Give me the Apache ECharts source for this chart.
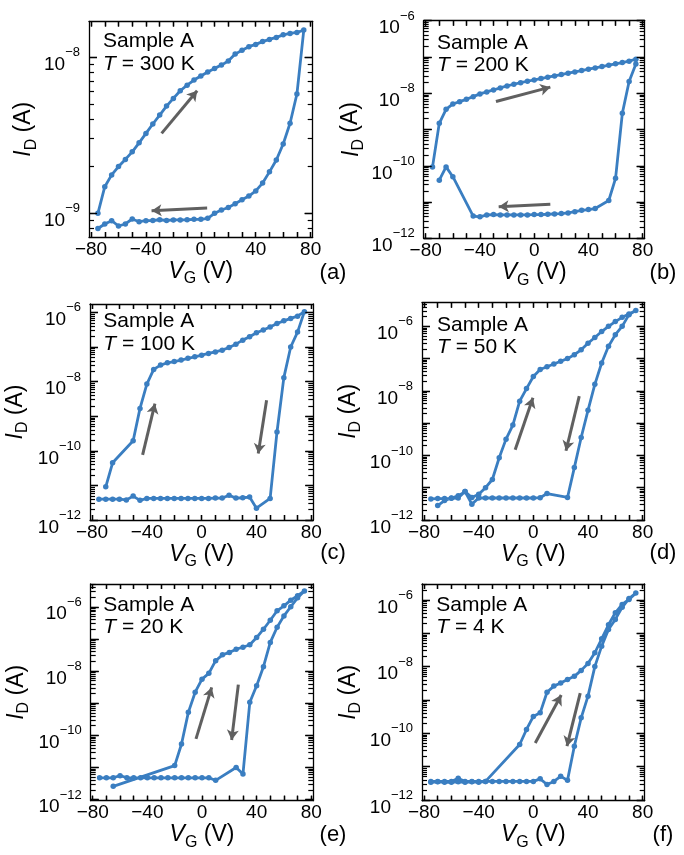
<!DOCTYPE html>
<html><head><meta charset="utf-8">
<script src="https://cdn.jsdelivr.net/npm/echarts@6/dist/echarts.min.js"></script>
<style>html,body{margin:0;padding:0;background:#fff}#c{width:684px;height:855px}</style>
</head><body><div id="c"></div>
<script>
// ---------- data (V_G in V, I_D in A) ----------
// (a) T = 300 K
const vgA_up = [-75,-70,-65,-60,-55,-50,-45,-40,-35,-30,-25,-20,-15,-10,-5,0,5,10,15,20,25,30,35,40,45,50,55,60,65,70,75];
const idA_up = [1.0e-9,1.48e-9,1.76e-9,1.99e-9,2.21e-9,2.47e-9,2.82e-9,3.24e-9,3.72e-9,4.24e-9,4.84e-9,5.42e-9,6.07e-9,6.59e-9,7.1e-9,7.53e-9,8.0e-9,8.43e-9,8.85e-9,9.4e-9,1.04e-8,1.10e-8,1.16e-8,1.2e-8,1.25e-8,1.29e-8,1.33e-8,1.38e-8,1.41e-8,1.43e-8,1.48e-8];
const vgA_dn = [70,65,60,55,50,45,40,35,30,25,20,15,10,5,0,-5,-10,-15,-20,-25,-30,-35,-40,-45,-50,-55,-60,-65,-70,-75];
const idA_dn = [5.78e-9,3.76e-9,2.77e-9,2.19e-9,1.84e-9,1.56e-9,1.39e-9,1.29e-9,1.22e-9,1.15e-9,1.09e-9,1.05e-9,1.0e-9,9.3e-10,9.16e-10,9.16e-10,9.1e-10,9.07e-10,9.07e-10,9.0e-10,9.1e-10,9.0e-10,8.97e-10,8.84e-10,9.2e-10,8.55e-10,8.3e-10,8.97e-10,8.55e-10,8.0e-10];
// (b) T = 200 K
const vgB_up = [-75,-70,-65,-60,-55,-50,-45,-40,-35,-30,-25,-20,-15,-10,-5,0,5,10,15,20,25,30,35,40,45,50,55,60,65,70,75];
const idB_up = [9.3e-11,1.48e-9,3.6e-9,5.06e-9,5.86e-9,6.8e-9,8.05e-9,9.6e-9,1.09e-8,1.23e-8,1.4e-8,1.59e-8,1.77e-8,1.96e-8,2.14e-8,2.33e-8,2.53e-8,2.77e-8,3.0e-8,3.27e-8,3.57e-8,3.88e-8,4.21e-8,4.6e-8,5.0e-8,5.43e-8,5.93e-8,6.45e-8,7.0e-8,7.65e-8,8.7e-8];
const vgB_dn = [75,70,65,60,55,45,40,35,30,25,20,15,10,5,0,-5,-10,-15,-20,-25,-30,-35,-40,-45,-60,-65,-70];
const idB_dn = [6.4e-8,2.1e-8,2.8e-9,4.5e-11,1.1e-11,6.6e-12,6.2e-12,5.9e-12,5.4e-12,5.0e-12,4.8e-12,4.7e-12,4.6e-12,4.5e-12,4.5e-12,4.4e-12,4.4e-12,4.4e-12,4.4e-12,4.4e-12,4.5e-12,4.4e-12,3.9e-12,4.1e-12,5.0e-11,9.3e-11,4.0e-11];
// (c) T = 100 K
const vgC_up = [-70,-65,-50,-45,-40,-35,-30,-25,-20,-15,-10,-5,0,5,10,15,20,25,30,35,40,45,50,55,60,65,70,75];
const idC_up = [9.1e-12,4.5e-11,1.95e-10,1.68e-9,8.5e-9,2.25e-8,3.0e-8,3.5e-8,3.8e-8,4.2e-8,4.7e-8,5.2e-8,5.8e-8,6.5e-8,7.2e-8,8.1e-8,9.7e-8,1.21e-7,1.58e-7,1.97e-7,2.57e-7,3.1e-7,3.8e-7,4.8e-7,5.7e-7,6.7e-7,7.8e-7,1.05e-6];
const vgC_dn = [70,65,60,55,50,40,35,30,25,20,15,10,5,0,-5,-10,-15,-20,-25,-30,-35,-40,-45,-50,-55,-60,-65,-70,-75];
const idC_dn = [2.7e-7,1.0e-7,1.3e-8,3.5e-10,4.2e-12,2.2e-12,4.6e-12,4.4e-12,4.3e-12,5.2e-12,4.3e-12,4.3e-12,4.2e-12,4.2e-12,4.2e-12,4.2e-12,4.2e-12,4.2e-12,4.2e-12,4.2e-12,4.2e-12,4.2e-12,3.7e-12,4.9e-12,3.8e-12,4.0e-12,4.0e-12,4.0e-12,4.0e-12];
// (d) T = 50 K
const vgD_up = [-70,-65,-60,-55,-50,-45,-40,-35,-30,-25,-20,-15,-10,-5,0,5,10,15,20,25,30,35,40,45,50,55,60,65,70,75];
const idD_up = [2.8e-12,4.0e-12,4.8e-12,5.6e-12,7.6e-12,5.0e-12,6.3e-12,1.0e-11,1.8e-11,8.5e-11,3.2e-10,8.7e-10,4.8e-9,1.18e-8,2.8e-8,4.6e-8,5.6e-8,6.8e-8,8.3e-8,1.0e-7,1.32e-7,1.88e-7,3.0e-7,4.5e-7,6.9e-7,1.0e-6,1.4e-6,1.9e-6,2.4e-6,3.1e-6];
const vgD_dn = [70,65,60,55,50,45,40,35,30,25,10,5,0,-5,-10,-15,-20,-25,-30,-35,-40,-45,-50,-55,-60,-65,-70,-75];
const idD_dn = [2.3e-6,1.0e-6,5.5e-7,2.4e-7,7.3e-8,1.6e-8,2.5e-9,3.6e-10,4.2e-11,5.0e-12,6.6e-12,4.9e-12,4.8e-12,4.8e-12,4.8e-12,4.8e-12,4.8e-12,4.8e-12,4.8e-12,4.8e-12,4.8e-12,3.1e-12,7.6e-12,4.8e-12,4.7e-12,4.6e-12,4.6e-12,4.5e-12];
// (e) T = 20 K
const vgE_up = [-65,-20,-15,-10,-5,0,5,10,15,20,25,30,35,40,45,50,55,60,65,70,75];
const idE_up = [2.6e-12,1.15e-11,5.4e-11,5.2e-10,2.2e-9,5.6e-9,8.5e-9,2.1e-8,3.2e-8,3.8e-8,4.8e-8,5.5e-8,6.6e-8,1.1e-7,2.0e-7,3.8e-7,7.5e-7,1.07e-6,1.6e-6,2.2e-6,3.1e-6];
const vgE_dn = [70,65,60,55,50,45,40,35,30,25,10,5,0,-5,-10,-15,-20,-25,-30,-35,-40,-45,-50,-55,-60,-65,-70,-75];
const idE_dn = [1.9e-6,1.0e-6,5.2e-7,2.3e-7,7.8e-8,1.37e-8,3.5e-9,1.07e-9,6.3e-12,1.0e-11,4.0e-12,4.8e-12,4.8e-12,4.8e-12,4.8e-12,4.8e-12,4.8e-12,4.8e-12,4.8e-12,4.8e-12,4.8e-12,4.8e-12,4.8e-12,4.8e-12,5.6e-12,4.8e-12,4.8e-12,4.8e-12];
// (f) T = 4 K
const vgF_up = [-75,-70,-65,-60,-55,-50,-45,-40,-35,-10,-5,0,5,10,15,20,25,30,35,40,45,50,55,60,65,70,75];
const idF_up = [3.4e-12,3.5e-12,3.4e-12,3.4e-12,3.5e-12,3.4e-12,3.5e-12,3.4e-12,3.6e-12,4.6e-11,1.3e-10,3.2e-10,4.1e-10,1.7e-9,2.6e-9,3.2e-9,4.1e-9,5.1e-9,7.7e-9,1.23e-8,2.6e-8,6.8e-8,1.8e-7,4.1e-7,7.3e-7,1.03e-6,1.6e-6];
const vgF_dn = [70,65,60,55,50,45,40,35,30,25,20,15,10,5,0,-5,-10,-15,-20,-25,-30,-35,-40,-45,-50,-55,-60,-65,-70,-75];
const idF_dn = [1.1e-6,6.0e-7,2.6e-7,1.3e-7,4.1e-8,1.0e-8,1.3e-9,2.9e-10,4.1e-11,3.9e-12,5.1e-12,3.6e-12,2.9e-12,4.3e-12,3.6e-12,3.6e-12,3.6e-12,3.6e-12,3.6e-12,3.6e-12,3.6e-12,3.6e-12,3.6e-12,3.6e-12,3.6e-12,4.5e-12,3.6e-12,3.6e-12,3.6e-12,3.6e-12];
// sweep-direction arrows [V start, I start, V end, I end]
const arrA = [[-28.6,3.24e-9,-2.7,6.07e-9],[4.6,1.08e-9,-35.9,1.04e-9]];
const arrB = [[-28.2,5.9e-9,11.9,1.47e-8],[11.9,8.7e-12,-26.2,7.4e-12]];
const arrC = [[-43.1,7.6e-11,-34.1,2.3e-9],[47.4,2.9e-9,41.3,8.3e-11]];
const arrD = [[-13.3,1.5e-10,-0.3,6.1e-9],[33.6,6.9e-9,23.9,1.4e-10]];
const arrE = [[-4.4,7.8e-11,7.1,3.1e-9],[26.6,3.8e-9,21.7,7.2e-11]];
const arrF = [[1.4,5.1e-11,20.4,1.4e-9],[34.3,1.6e-9,24.6,4.1e-11]];
// axis ticks / labels
const xTickValues = [-80,-70,-60,-50,-40,-30,-20,-10,0,10,20,30,40,50,60,70,80];
const xLabelValues = [-80,-40,0,40,80];
const minorMultipliers = [2,3,4,5,6,7,8,9];
const temps = ['300','200','100','50','20','4'];
const letters = ['(a)','(b)','(c)','(d)','(e)','(f)'];

// ---------- layout ----------
const FONT = 'Liberation Sans';
const BLUE = '#3a7ec1';
const XMIN = -81.5, XMAX = 81.5;
const panels = [
  {vu:vgA_up,iu:idA_up,vd:vgA_dn,id:idA_dn,arr:arrA,grid:{left:89,top:21.5,width:223.7,height:215.5},ymin:7.06e-10,ymax:1.68e-8,every:1,nameGap:47,txt:[103,31],let:[333,273]},
  {vu:vgB_up,iu:idB_up,vd:vgB_dn,id:idB_dn,arr:arrB,grid:{left:423.7,top:20.7,width:221,height:217.6},ymin:1e-12,ymax:1e-6,every:2,nameGap:53,txt:[437,32.5],let:[663,273]},
  {vu:vgC_up,iu:idC_up,vd:vgC_dn,id:idC_dn,arr:arrC,grid:{left:90,top:304,width:223.3,height:216},ymin:1e-12,ymax:1.75e-6,every:2,nameGap:58,txt:[103.3,311],let:[333,553]},
  {vu:vgD_up,iu:idD_up,vd:vgD_dn,id:idD_dn,arr:arrD,grid:{left:422,top:302.7,width:222.7,height:217.3},ymin:1e-12,ymax:5.4e-6,every:2,nameGap:57,txt:[437,314.3],let:[663,553]},
  {vu:vgE_up,iu:idE_up,vd:vgE_dn,id:idE_dn,arr:arrE,grid:{left:90.7,top:584,width:222.6,height:216.7},ymin:9.3e-13,ymax:5.1e-6,every:2,nameGap:58,txt:[103.3,594.3],let:[333,835]},
  {vu:vgF_up,iu:idF_up,vd:vgF_dn,id:idF_dn,arr:arrF,grid:{left:422,top:584,width:222.7,height:216.7},ymin:9.5e-13,ymax:3.0e-6,every:2,nameGap:57,txt:[436.3,594.3],let:[663,835]}
];

function decades(min,max){const o=[];for(let e=-14;e<=-4;e++){const v=parseFloat('1e'+e);if(v>=min*0.999&&v<=max*1.001)o.push(v);}return o;}
function minors(min,max){const o=[];for(let e=-14;e<=-4;e++){minorMultipliers.forEach(k=>{const v=parseFloat(k+'e'+e);if(v>=min&&v<=max)o.push(v);});}return o;}
const expOf = v => Math.round(Math.log10(v));

const option = {animation:false, backgroundColor:'#fff', grid:[], xAxis:[], yAxis:[], series:[], graphic:[]};
const axisLine = {show:true, onZero:false, lineStyle:{color:'#000', width:1.3}};
const nameRich = {
  i:{fontFamily:FONT,fontSize:23,fontStyle:'italic',color:'#000',lineHeight:28,verticalAlign:'top'},
  s:{fontFamily:FONT,fontSize:16,color:'#000',lineHeight:16,padding:[11,0,0,0],verticalAlign:'top'},
  n:{fontFamily:FONT,fontSize:23,color:'#000',lineHeight:28,verticalAlign:'top'}};
const TICK_MAJOR = 8, TICK_MINOR = 5, TICK_X = 5;

function seg(x1,y1,x2,y2,width){
  return [{coord:[x1,y1], symbol:'none', lineStyle:{color:'#000', width:width, type:'solid', opacity:1}},
          {coord:[x2,y2], symbol:'none'}];
}

panels.forEach((p,gi)=>{
  option.grid.push(Object.assign({containLabel:false}, p.grid));
  const xTick = {show:true, inside:true, length:TICK_X, customValues:xTickValues, lineStyle:{color:'#000', width:1.3}};
  const xBase = {type:'value', gridIndex:gi, min:XMIN, max:XMAX, splitLine:{show:false}, axisLine:axisLine, axisTick:xTick};
  const xi = option.xAxis.length;
  option.xAxis.push(Object.assign({}, xBase, {position:'bottom',
    axisLabel:{show:true, customValues:xLabelValues, margin:3, color:'#000', fontFamily:FONT, fontSize:19,
      formatter:v=> v<0 ? '\u2212'+(-v) : String(v)},
    name:'{i|V}{s|G}{n| (V)}', nameLocation:'middle', nameGap:19,
    nameTextStyle:{lineHeight:28, rich:nameRich}}));
  option.xAxis.push(Object.assign({}, xBase, {position:'top', axisLabel:{show:false}}));

  const majors = decades(p.ymin,p.ymax);
  const labeled = majors.filter(v=> expOf(v) % p.every === 0);
  const mins = minors(p.ymin,p.ymax);
  const yTick = {show:true, inside:true, length:TICK_MAJOR, customValues:majors, lineStyle:{color:'#000', width:1.3}};
  const yBase = {type:'log', logBase:10, gridIndex:gi, min:p.ymin, max:p.ymax, splitLine:{show:false}, minorTick:{show:false}, axisTick:yTick};
  const yi = option.yAxis.length;
  option.yAxis.push(Object.assign({}, yBase, {position:'left', axisLine:axisLine,
    axisLabel:{show:true, customValues:labeled, margin:9, color:'#000', padding:[6,0,0,0],
      formatter:v=>'{b|10}{s|\u2212'+(-expOf(v))+'}',
      rich:{b:{fontFamily:FONT,fontSize:19,color:'#000',lineHeight:28,verticalAlign:'bottom'},
            s:{fontFamily:FONT,fontSize:13,color:'#000',lineHeight:13,verticalAlign:'top'}}},
    name:'{i|I}{s|D}{n| (A)}', nameLocation:'middle', nameRotate:90, nameGap:p.nameGap,
    nameTextStyle:{lineHeight:28, rich:nameRich}}));
  option.yAxis.push(Object.assign({}, yBase, {position:'right', axisLine:axisLine, axisLabel:{show:false}}));

  // inward ticks on all four sides as short segments in data space, mapped by the axes
  const vPerPx = (XMAX - XMIN) / p.grid.width;
  const decPerPx = (Math.log10(p.ymax) - Math.log10(p.ymin)) / p.grid.height;
  const shift = (y, px) => y * Math.pow(10, px * decPerPx);
  const xl = XMIN + 0.05*vPerPx, xr = XMAX - 0.05*vPerPx;
  const yb = shift(p.ymin, 0.05), yt = shift(p.ymax, -0.05);
  const ticks = [];
  xTickValues.forEach(v=>{
    ticks.push(seg(v, yb, v, shift(p.ymin, TICK_X), 1.3));
    ticks.push(seg(v, yt, v, shift(p.ymax, -TICK_X), 1.3));
  });
  majors.forEach(v=>{
    ticks.push(seg(xl, v, XMIN + TICK_MAJOR*vPerPx, v, 1.3));
    ticks.push(seg(xr, v, XMAX - TICK_MAJOR*vPerPx, v, 1.3));
  });
  mins.forEach(v=>{
    ticks.push(seg(xl, v, XMIN + TICK_MINOR*vPerPx, v, 1.2));
    ticks.push(seg(xr, v, XMAX - TICK_MINOR*vPerPx, v, 1.2));
  });
  const arrows = p.arr.map(a=>[
    {coord:[a[0],a[1]], symbol:'none', lineStyle:{color:'#606060', width:3, type:'solid', opacity:1}},
    {coord:[a[2],a[3]], symbol:'arrow', symbolSize:[9,10]}]);

  const data = p.vu.map((v,i)=>[v,p.iu[i]]).concat(p.vd.map((v,i)=>[v,p.id[i]]));
  option.series.push({type:'line', xAxisIndex:xi, yAxisIndex:yi, data:data, showSymbol:true, symbol:'circle', symbolSize:5.5,
    lineStyle:{color:BLUE, width:2.8}, itemStyle:{color:BLUE}, z:3, silent:true,
    markLine:{silent:true, symbol:['none','none'], label:{show:false},
      lineStyle:{color:'#606060', width:3, type:'solid'}, emphasis:{disabled:true},
      data:ticks.concat(arrows)}});

  option.graphic.push({type:'text', left:p.txt[0], top:p.txt[1], silent:true,
    style:{text:'Sample A', fontFamily:FONT, fontSize:21, fill:'#000'}});
  option.graphic.push({type:'text', left:p.txt[0], top:p.txt[1]+22.5, silent:true,
    style:{text:'{i|T}{n| = '+temps[gi]+' K}', rich:{i:{fontFamily:FONT,fontSize:21,fontStyle:'italic',fill:'#000'}, n:{fontFamily:FONT,fontSize:21,fill:'#000'}}}});
  option.graphic.push({type:'text', x:p.let[0], y:p.let[1], silent:true,
    style:{text:letters[gi], fontFamily:FONT, fontSize:22, fill:'#000', align:'center', verticalAlign:'middle'}});
});

const chart = echarts.init(document.getElementById('c'), null, {renderer:'canvas'});
chart.setOption(option);
</script></body></html>
